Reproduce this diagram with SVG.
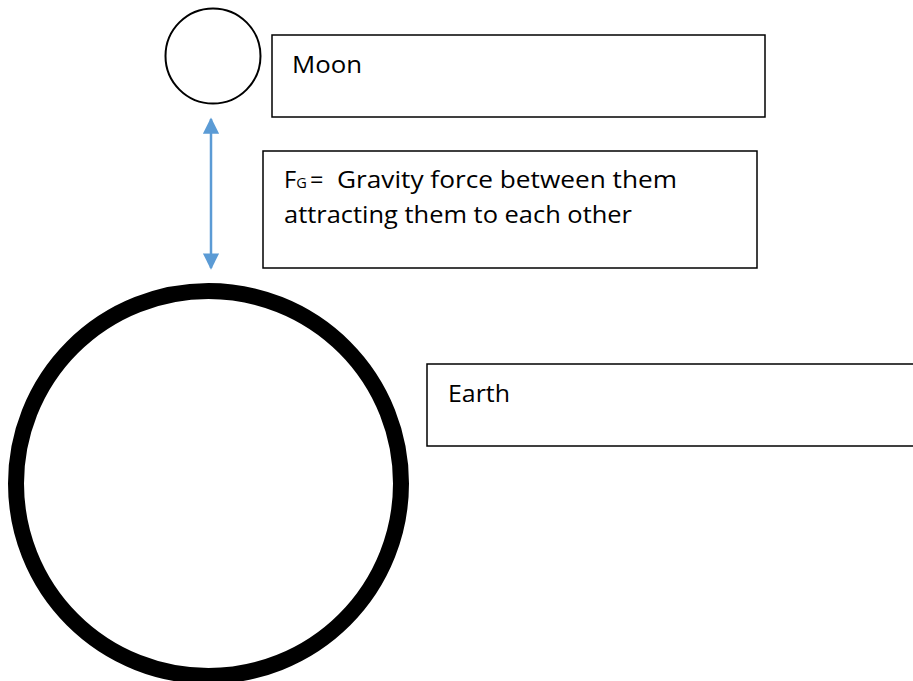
<svg xmlns="http://www.w3.org/2000/svg" width="913" height="681" viewBox="0 0 913 681">
<style>
.box{fill:#fff;stroke:#000;stroke-width:1.5}
.lbl{font-family:"Open Sans","Liberation Sans",sans-serif;font-size:23.5px;fill:#000}
.conn{stroke:#5B9BD5;stroke-width:2.5;fill:none}
</style>
<defs>
<marker id="ah" viewBox="0 0 10 10" refX="9" refY="5" markerWidth="6.5" markerHeight="6.5" markerUnits="strokeWidth" orient="auto-start-reverse">
<path d="M0,0 L10,5 L0,10 z" fill="#5B9BD5"/>
</marker>
</defs>
<rect width="913" height="681" fill="#fff"/>
<g id="moon">
<circle cx="213" cy="56" r="47.5" fill="#fff" stroke="#000" stroke-width="2"/>
</g>
<g id="moon-label">
<rect class="box" x="272" y="35" width="493" height="82"/>
<text class="lbl" x="292" y="72.5" textLength="70" lengthAdjust="spacingAndGlyphs">Moon</text>
</g>
<g id="force-label">
<rect class="box" x="263" y="151" width="494" height="117"/>
<text class="lbl" x="284" y="188">F<tspan font-size="14.5">G</tspan><tspan x="310">=</tspan><tspan x="337" textLength="340" lengthAdjust="spacingAndGlyphs">Gravity force between them</tspan></text>
<text class="lbl" x="284" y="223" textLength="348" lengthAdjust="spacingAndGlyphs">attracting them to each other</text>
</g>
<g id="earth">
<circle cx="208.5" cy="483.5" r="192.5" fill="#fff" stroke="#000" stroke-width="16"/>
</g>
<g id="earth-label">
<rect class="box" x="427" y="364" width="490" height="82"/>
<text class="lbl" x="448" y="402" textLength="62" lengthAdjust="spacingAndGlyphs">Earth</text>
</g>
<g id="connectors">
<line class="conn" x1="211" y1="119" x2="211" y2="268" marker-start="url(#ah)" marker-end="url(#ah)"/>
</g>
</svg>
